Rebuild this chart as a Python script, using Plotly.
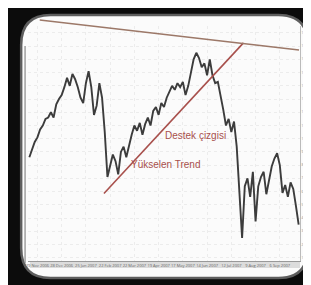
import plotly.graph_objects as go

# ---- data (arbitrary price units) ----
day_index = list(range(101))
price = [86, 92, 97.5, 101, 107, 110, 115, 116, 120, 116,
         126, 130, 133, 139, 146, 140, 149, 145, 139, 131,
         127, 142, 151, 139, 118, 125, 142, 131, 105, 71,
         79, 88, 83, 73, 90, 94, 86, 95, 103, 110,
         106, 112, 103, 111, 116, 110, 121, 124, 118, 127,
         124, 131, 136, 140, 137, 142, 139, 143, 133, 140,
         150, 160, 165, 161, 154, 157, 148, 160, 148, 142,
         143, 133, 122, 110, 115, 105, 113, 94, 60, 25,
         64, 70, 56, 75, 37.5, 64, 71, 75, 58, 70,
         79, 85, 89, 80, 59, 65, 56, 67, 62, 49, 35]
trend_x = [27.7, 79.5]
trend_y = [58.5, 172.5]
tick_pos = [3, 12, 21, 30, 39, 48, 57, 66, 75, 84, 93]
tick_labels = ["29 Nov 2006", "28 Dec 2006", "25 Jan 2007", "22 Feb 2007",
               "22 Mar 2007", "19 Apr 2007", "17 May 2007", "14 Jun 2007",
               "12 Jul 2007", "9 Aug 2007", "6 Sep 2007"]
label_support = "Destek çizgisi"
label_trend = "Yükselen Trend"

W, H = 311, 285
L, R, T, B = 20, 298, 18, 253


def px(x):
    return (x - L) / (R - L)


def py(y):
    return (B - y) / (B - T)


fig = go.Figure()
fig.add_trace(go.Scatter(x=day_index, y=price, mode="lines",
                         line=dict(color="#3c3c3c", width=1.9),
                         hoverinfo="skip", showlegend=False))
fig.add_trace(go.Scatter(x=trend_x, y=trend_y, mode="lines",
                         line=dict(color="#a8504c", width=1.6),
                         hoverinfo="skip", showlegend=False))

# rounded white frame (photo of slide)
x0, x1, y0, y1, r = 13, 306, 7, 270, 30
path = (f"M {px(x0 + r)} {py(y0)} L {px(x1 - r)} {py(y0)} "
        f"Q {px(x1)} {py(y0)} {px(x1)} {py(y0 + r)} "
        f"L {px(x1)} {py(y1 - r)} Q {px(x1)} {py(y1)} {px(x1 - r)} {py(y1)} "
        f"L {px(x0 + r)} {py(y1)} Q {px(x0)} {py(y1)} {px(x0)} {py(y1 - r)} "
        f"L {px(x0)} {py(y0 + r)} Q {px(x0)} {py(y0)} {px(x0 + r)} {py(y0)} Z")
fig.add_shape(type="path", path=path, xref="paper", yref="paper",
              fillcolor="#fbfbfb", line=dict(color="#5e5e5e", width=2.5),
              layer="below")
# grey date strip along the bottom
fig.add_shape(type="rect", xref="paper", yref="paper",
              x0=px(22), y0=py(260), x1=px(298), y1=py(253),
              fillcolor="#dcdcdc", line=dict(width=0), layer="below")
# tilted top border line of the photographed chart
fig.add_shape(type="line", xref="paper", yref="paper",
              x0=px(32), y0=py(12), x1=px(297), y1=py(42),
              line=dict(color="#9c7868", width=1.4))
# left border
fig.add_shape(type="line", xref="paper", yref="paper",
              x0=px(17), y0=py(38), x1=px(17), y1=py(255),
              line=dict(color="#888", width=1.2))

fig.add_annotation(x=px(191), y=py(127), xref="paper", yref="paper",
                   text=label_support, showarrow=False,
                   font=dict(family="Liberation Sans Narrow, Arial", size=10, color="#a8504c"))
fig.add_annotation(x=px(161), y=py(156), xref="paper", yref="paper",
                   text=label_trend, showarrow=False,
                   font=dict(family="Liberation Sans Narrow, Arial", size=10, color="#a8504c"))

fig.update_layout(
    width=W, height=H,
    margin=dict(l=L, r=W - R, t=T, b=H - B, pad=0),
    paper_bgcolor="#0c0c0c",
    plot_bgcolor="rgba(0,0,0,0)",
    xaxis=dict(range=[-0.5, 100.5], tickvals=tick_pos, ticktext=tick_labels,
               tickangle=0, tickfont=dict(size=4, color="#666"), showgrid=True,
               gridcolor="#ececec", griddash="dot", zeroline=False,
               showline=True, linecolor="#999", linewidth=1, ticks="",
               fixedrange=True),
    yaxis=dict(range=[7.5, 185.25], side="right", dtick=10,
               tickfont=dict(size=3, color="#888"), showgrid=True,
               gridcolor="#ececec", griddash="dot", zeroline=False,
               showline=True, linecolor="#bbb", ticks="", fixedrange=True),
)

fig.write_html("out.html")
